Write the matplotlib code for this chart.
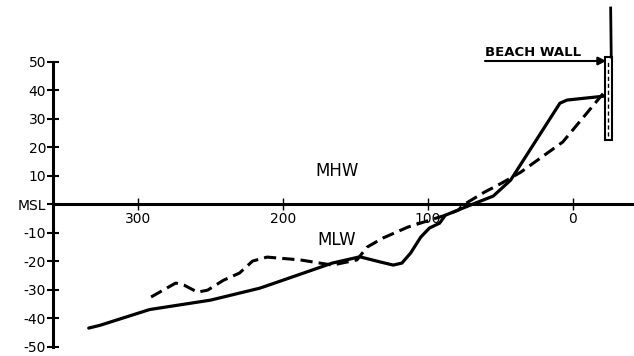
import matplotlib
matplotlib.use('Agg')
import matplotlib.pyplot as plt
from matplotlib.patches import Rectangle

# profile data: distance from wall (ft) vs elevation relative to MSL (ft)
solid_dist = [334, 326, 292, 250, 216, 200, 166, 147, 133, 124, 118, 112, 105,
              99, 92, 88, 69, 55, 43, 9, 4, -22]
solid_elev = [-43.5, -42.5, -37.0, -33.7, -29.5, -26.7, -20.7, -18.5, -20.3,
              -21.4, -20.7, -17.2, -11.6, -8.4, -6.7, -3.9, 0.0, 2.8, 8.4,
              35.4, 36.5, 37.9]

dash_dist = [291, 274, 268, 259, 252, 241, 230, 221, 211, 188, 166, 149, 142,
             131, 114, 88, 79, 76, 61, 49, 36, 7, -21]
dash_elev = [-32.6, -27.7, -28.5, -30.9, -30.2, -26.7, -24.2, -20.0, -18.6,
             -19.6, -21.4, -19.6, -15.1, -11.9, -8.1, -3.9, -2.1, -0.4, 4.2,
             7.4, 11.2, 21.8, 38.9]

xticks = [300, 200, 100, 0]
yticks = [50, 40, 30, 20, 10, 0, -10, -20, -30, -40, -50]
ylabels = ['50', '40', '30', '20', '10', 'MSL', '-10', '-20', '-30', '-40', '-50']

plt.rcParams['font.family'] = ['DejaVu Sans']

fig = plt.figure(figsize=(6.34, 3.56), dpi=100)
ax = fig.add_axes([0, 0, 1, 1])
ax.set_xlim(395.2, -42.1)
ax.set_ylim(-53.3, 71.6)

# axes drawn as crossing lines
ax.spines['top'].set_visible(False)
ax.spines['right'].set_visible(False)
ax.spines['left'].set_position(('data', 358.6))
ax.spines['bottom'].set_position(('data', 0))
ax.spines['left'].set_bounds(-50, 50)
ax.spines['bottom'].set_bounds(-42.1, 358.6)
ax.spines['left'].set_linewidth(2.2)
ax.spines['bottom'].set_linewidth(2.2)

ax.set_xticks(xticks)
ax.set_yticks(yticks)
ax.set_yticklabels(ylabels)
ax.tick_params(axis='x', direction='inout', length=8, width=1, pad=2, labelsize=10)
ax.tick_params(axis='y', direction='inout', length=8, width=1.5, pad=1, labelsize=10)

ax.plot(solid_dist, solid_elev, color='black', lw=2.3, solid_capstyle='round')
ax.plot(dash_dist, dash_elev, color='black', lw=2.2, dashes=(4, 2))

# beach wall
ax.add_patch(Rectangle((-26.9, 22.5), 4.8, 29.1, facecolor='white',
                       edgecolor='black', lw=1.5, zorder=3))
ax.plot([-24.5, -24.5], [24, 50], color='black', lw=1, dashes=(3, 2), zorder=4)
ax.plot([-26.4, -26.0], [51.6, 68.8], color='black', lw=2, zorder=4)

ax.annotate('', xy=(-23, 50.2), xytext=(60.7, 50.2),
            arrowprops=dict(arrowstyle='-|>', lw=1.5, color='black',
                            mutation_scale=12, shrinkA=0, shrinkB=0))
ax.text(60.7, 51.8, 'BEACH WALL', fontsize=9.5, fontweight='bold',
        ha='left', va='baseline')

ax.text(163, 11.6, 'MHW', fontsize=12, ha='center', va='center')
ax.text(163, -12.6, 'MLW', fontsize=12, ha='center', va='center')

fig.savefig('out.png', dpi=100)
